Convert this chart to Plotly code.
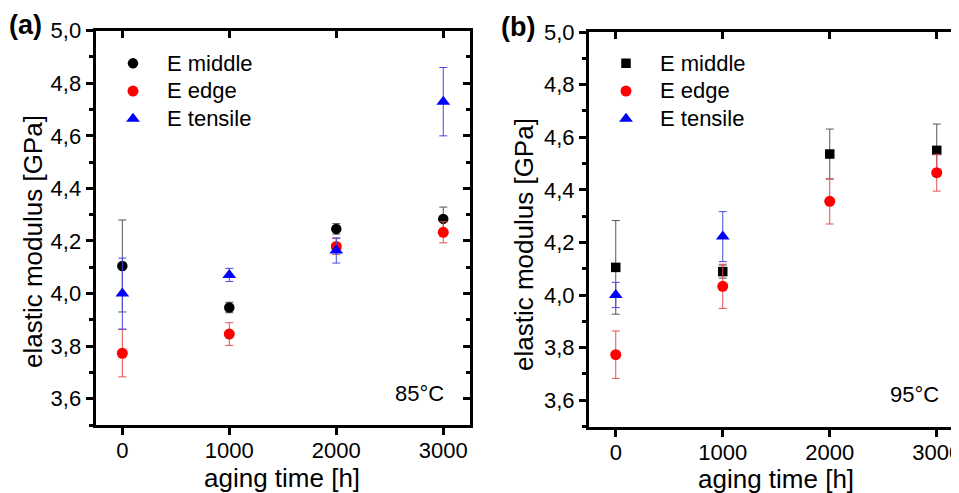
import plotly.graph_objects as go

# ---------------- data ----------------
aging_time = [0, 1000, 2000, 3000]
tensile_time_b = [0, 1000]

# panel (a) 85°C
mid_a = [4.105, 3.947, 4.246, 4.284]
mid_a_err = [0.175, 0.020, 0.020, 0.045]
edge_a = [3.773, 3.846, 4.179, 4.233]
edge_a_err = [0.090, 0.043, 0.030, 0.040]
tens_a = [4.000, 4.071, 4.164, 4.730]
tens_a_err = [0.135, 0.025, 0.048, 0.130]

# panel (b) 95°C
mid_b = [4.105, 4.089, 4.536, 4.550]
mid_b_err = [0.178, 0.025, 0.095, 0.100]
edge_b = [3.773, 4.033, 4.356, 4.465]
edge_b_err = [0.090, 0.084, 0.086, 0.070]
tens_b = [4.000, 4.222]
tens_b_err = [0.048, 0.095]

series_names = ["E middle", "E edge", "E tensile"]
x_tickvals = [0, 1000, 2000, 3000]
x_ticktext = ["0", "1000", "2000", "3000"]
y_tickvals = [3.6, 3.8, 4.0, 4.2, 4.4, 4.6, 4.8, 5.0]
y_ticktext = ["3,6", "3,8", "4,0", "4,2", "4,4", "4,6", "4,8", "5,0"]

FONT = "Liberation Sans, Arial, sans-serif"
OFF = 8            # page body margin
W, H = 959 - OFF, 493 - OFF

def px_x(p):
    return (p - OFF) / W

def px_y(p):
    return 1 - (p - OFF) / H

fig = go.Figure()

def legend_label(name):
    return '<span style="font-size:22px">' + name + '</span>'

def add_series(x, y, err, name, color, ecolor, symbol, size, xa, ya, legend):
    fig.add_trace(go.Scatter(
        x=x, y=y, mode="markers", name=legend_label(name),
        marker=dict(color=color, symbol=symbol, size=size, line=dict(width=0)),
        error_y=dict(type="data", array=err, visible=True, color=ecolor,
                     thickness=1, width=4),
        xaxis=xa, yaxis=ya, legend=legend, cliponaxis=False,
    ))

# panel (a)
add_series(aging_time, mid_a, mid_a_err, series_names[0], "#000000", "#555555", "circle", 10.5, "x", "y", "legend")
add_series(aging_time, edge_a, edge_a_err, series_names[1], "#ff0000", "#e05050", "circle", 11, "x", "y", "legend")
add_series(aging_time, tens_a, tens_a_err, series_names[2], "#0000ff", "#4848e0", "triangle-up", 12, "x", "y", "legend")
# panel (b)
add_series(aging_time, mid_b, mid_b_err, series_names[0], "#000000", "#555555", "square", 9.5, "x2", "y2", "legend2")
add_series(aging_time, edge_b, edge_b_err, series_names[1], "#ff0000", "#e05050", "circle", 11, "x2", "y2", "legend2")
add_series(tensile_time_b, tens_b, tens_b_err, series_names[2], "#0000ff", "#4848e0", "triangle-up", 12, "x2", "y2", "legend2")

# empty helper traces so that the frame (top / right) axes are drawn
for xa, ya in [("x3", "y"), ("x", "y3"), ("x4", "y2"), ("x2", "y4")]:
    fig.add_trace(go.Scatter(x=[], y=[], xaxis=xa, yaxis=ya, showlegend=False,
                             hoverinfo="skip", mode="markers"))

LW = 3
xa_dom = [px_x(95.6), px_x(470)]
ya_dom = [px_y(425), px_y(30.7)]
xb_dom = [px_x(589), 1.0]
yb_dom = [px_y(426.5), px_y(32)]
x_range_a = [-250, 3250]
x_range_b = [-250, 3208]
y_range = [3.5, 5.0]

tickfont = dict(family=FONT, size=22, color="black")

def xbottom(dom, rng, anchor):
    return dict(domain=dom, range=rng, anchor=anchor, showline=True, linewidth=LW,
                linecolor="black", ticks="outside", ticklen=7, tickwidth=LW,
                tickcolor="black", tickmode="array", tickvals=x_tickvals,
                ticktext=x_ticktext, tickfont=tickfont, showgrid=False,
                zeroline=False, mirror=False, automargin=False,
                ticklabeloverflow="allow", ticklabelstandoff=-3)

def xtop(dom, rng, anchor, over):
    return dict(domain=dom, range=rng, anchor=anchor, overlaying=over, side="top",
                showline=True, linewidth=LW, linecolor="black", ticks="inside",
                ticklen=7, tickwidth=LW, tickcolor="black", tickmode="array",
                tickvals=x_tickvals, showticklabels=False, showgrid=False,
                zeroline=False, automargin=False)

def yleft(dom, anchor):
    return dict(domain=dom, range=y_range, anchor=anchor, showline=True, linewidth=LW,
                linecolor="black", ticks="outside", ticklen=7, tickwidth=LW,
                tickcolor="black", tickmode="array", tickvals=y_tickvals,
                ticktext=y_ticktext, tickfont=tickfont, showgrid=False,
                zeroline=False, mirror=False, automargin=False,
                minor=dict(tickmode="linear", tick0=3.5, dtick=0.1, ticks="outside",
                           ticklen=4, tickwidth=LW, tickcolor="black", showgrid=False))

def yright(dom, anchor, over, line):
    return dict(domain=dom, range=y_range, anchor=anchor, overlaying=over, side="right",
                showline=line, linewidth=LW, linecolor="black", ticks="inside",
                ticklen=7, tickwidth=LW, tickcolor="black", tickmode="array",
                tickvals=y_tickvals, showticklabels=False, showgrid=False,
                zeroline=False, automargin=False,
                minor=dict(tickmode="linear", tick0=3.5, dtick=0.1, ticks="inside",
                           ticklen=4, tickwidth=LW, tickcolor="black", showgrid=False))

legend_common = dict(font=dict(family=FONT, size=19, color="black"),
                     bgcolor="rgba(0,0,0,0)", borderwidth=0, itemwidth=58,
                     xanchor="left", yanchor="top", tracegroupgap=0)

fig.update_layout(
    width=W, height=H,
    margin=dict(l=0, r=0, t=0, b=0, pad=0),
    paper_bgcolor="white", plot_bgcolor="white",
    font=dict(family=FONT, size=22, color="black"),
    showlegend=True,
    xaxis=xbottom(xa_dom, x_range_a, "y"),
    yaxis=yleft(ya_dom, "x"),
    xaxis2=xbottom(xb_dom, x_range_b, "y2"),
    yaxis2=yleft(yb_dom, "x2"),
    xaxis3=xtop(xa_dom, x_range_a, "y", "x"),
    yaxis3=yright(ya_dom, "x", "y", True),
    xaxis4=xtop(xb_dom, x_range_b, "y2", "x2"),
    yaxis4=yright(yb_dom, "x2", "y2", False),
    legend=dict(x=px_x(99), y=px_y(44.5), **legend_common),
    legend2=dict(x=px_x(592), y=px_y(44.5), **legend_common),
)

title_font = dict(family=FONT, size=26, color="black")
annots = [
    dict(text="aging time [h]", x=px_x(282), y=px_y(478), font=title_font),
    dict(text="aging time [h]", x=px_x(776), y=px_y(479), font=title_font),
    dict(text="elastic modulus [GPa]", x=px_x(33), y=px_y(242), textangle=-90, font=title_font),
    dict(text="elastic modulus [GPa]", x=px_x(524), y=px_y(245), textangle=-90, font=title_font),
    dict(text="<b>(a)</b>", x=px_x(25), y=px_y(25), font=dict(family=FONT, size=27, color="black")),
    dict(text="<b>(b)</b>", x=px_x(518), y=px_y(27), font=dict(family=FONT, size=27, color="black")),
    dict(text="85°C", x=px_x(419), y=px_y(393), font=dict(family=FONT, size=22, color="black")),
    dict(text="95°C", x=px_x(914), y=px_y(394), font=dict(family=FONT, size=22, color="black")),
]
for a in annots:
    fig.add_annotation(xref="paper", yref="paper", showarrow=False,
                       xanchor="center", yanchor="middle", **a)

fig.write_html("out.html")
